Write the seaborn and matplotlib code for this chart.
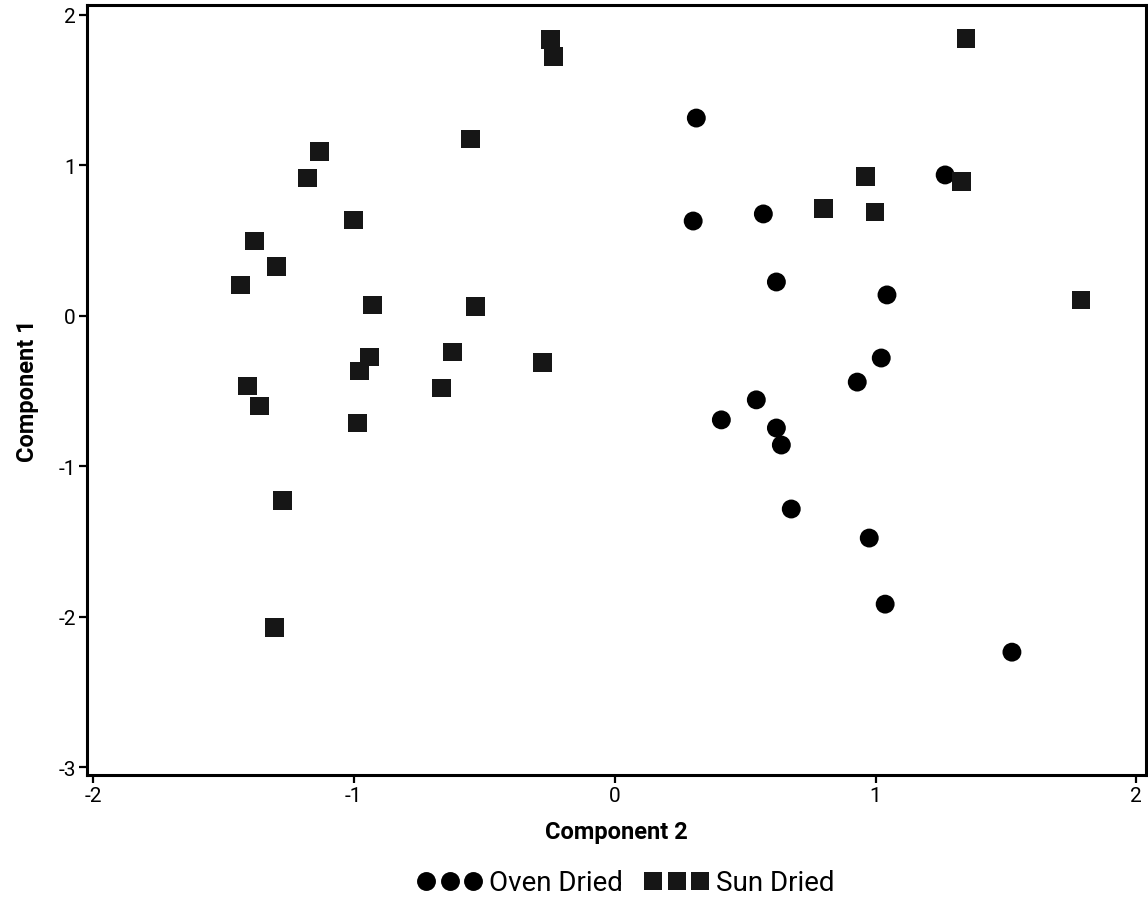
import pandas as pd
import matplotlib.pyplot as plt
import seaborn as sns

# Oven dried samples (Component 2, Component 1)
oven_c2 = [0.313, 0.301, 0.570, 0.620, 1.267, 1.044, 1.022, 0.930,
           0.543, 0.409, 0.620, 0.639, 0.677, 0.976, 1.037, 1.523]
oven_c1 = [1.313, 0.629, 0.676, 0.224, 0.935, 0.138, -0.281, -0.441,
           -0.559, -0.692, -0.746, -0.859, -1.284, -1.477, -1.916, -2.235]

# Sun dried samples
sun_c2 = [-1.434, -1.381, -1.296, -1.407, -1.361, -1.273, -1.304, -1.178,
          -1.131, -1.001, -0.928, -0.940, -0.978, -0.986, -0.664, -0.622,
          -0.553, -0.534, -0.277, -0.247, -0.235, 0.799, 0.960, 0.998,
          1.328, 1.347, 1.788]
sun_c1 = [0.204, 0.496, 0.324, -0.467, -0.600, -1.225, -2.069, 0.915,
          1.088, 0.636, 0.071, -0.274, -0.367, -0.713, -0.480, -0.241,
          1.174, 0.064, -0.308, 1.832, 1.719, 0.715, 0.922, 0.689,
          0.889, 1.839, 0.104]

x_ticks = [-2, -1, 0, 1, 2]
y_ticks = [-3, -2, -1, 0, 1, 2]


def build_frame():
    """Stack both groups into one long DataFrame."""
    oven = pd.DataFrame({"Component 2": oven_c2, "Component 1": oven_c1,
                         "group": "Oven Dried"})
    sun = pd.DataFrame({"Component 2": sun_c2, "Component 1": sun_c1,
                        "group": "Sun Dried"})
    return pd.concat([oven, sun], ignore_index=True)


df = build_frame()

sns.set_theme(style="ticks")
plt.rcParams['font.family'] = ['Roboto', 'DejaVu Sans']
plt.rcParams['axes.unicode_minus'] = False
plt.rcParams['text.color'] = 'black'
plt.rcParams['axes.labelcolor'] = 'black'
plt.rcParams['xtick.color'] = 'black'
plt.rcParams['ytick.color'] = 'black'

fig = plt.figure(figsize=(11.48, 9.12), dpi=100)
ax = fig.add_axes([87 / 1148, 1 - 776 / 912, (1146 - 87) / 1148, (776 - 6) / 912])

ax = sns.scatterplot(data=df, x="Component 2", y="Component 1",
                     hue="group", style="group",
                     palette={"Oven Dried": "black", "Sun Dried": "#161616"},
                     markers={"Oven Dried": "o", "Sun Dried": "s"},
                     s=185, linewidth=0, ax=ax)

ax.set_xlim(-2.023, 2.037)
ax.set_ylim(-3.051, 2.064)
ax.set_xticks(x_ticks)
ax.set_yticks(y_ticks)
ax.tick_params(direction='out', length=6, width=1.6, labelsize=15, pad=2)
for side in ['left', 'right', 'top', 'bottom']:
    ax.spines[side].set_visible(True)
    ax.spines[side].set_linewidth(2.2)
    ax.spines[side].set_color('black')

ax.set_xlabel("Component 2", fontsize=17, fontweight='bold', labelpad=11)
ax.set_ylabel("Component 1", fontsize=17, fontweight='bold', labelpad=14)

handles, labels = ax.get_legend_handles_labels()
ax.get_legend().remove()
fig.legend(handles, labels, loc='center', bbox_to_anchor=(626 / 1148, 1 - 884 / 912),
           ncol=2, frameon=False, numpoints=3, scatterpoints=3, scatteryoffsets=[0.5],
           handlelength=2.3, handletextpad=0.25, columnspacing=0.8, fontsize=20)

plt.savefig("out.png", dpi=100)
